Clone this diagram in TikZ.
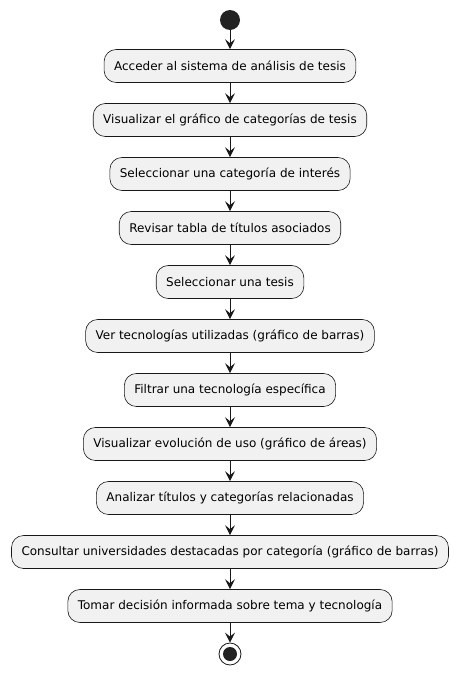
\documentclass[tikz,border=0pt]{standalone}
\usepackage{fontspec}
\setmainfont{DejaVu Sans}
\usetikzlibrary{arrows.meta}
\definecolor{boxfill}{HTML}{F1F1F1}
\definecolor{boxline}{HTML}{181818}
\definecolor{dot}{HTML}{222222}
\tikzset{
  act/.style={draw=boxline, fill=boxfill, line width=0.6pt, rounded corners=12pt,
    minimum height=33pt, inner xsep=10pt, font=\fontsize{12}{14}\selectfont},
  flow/.style={draw=boxline, line width=1pt, -{Stealth[length=10pt,width=10pt,inset=4pt]}},
}
\begin{document}
\begin{tikzpicture}[x=1pt,y=-1pt]
\useasboundingbox (0,0) rectangle (458,675);
\node[circle, fill=dot, minimum size=20pt, inner sep=0] (start) at (230,20) {};
\node[act] (a1) at (230,66) {Acceder al sistema de análisis de tesis};
\node[act] (a2) at (230,120) {Visualizar el gráfico de categorías de tesis};
\node[act] (a3) at (230,174) {Seleccionar una categoría de interés};
\node[act] (a4) at (230,228) {Revisar tabla de títulos asociados};
\node[act] (a5) at (230,282) {Seleccionar una tesis};
\node[act] (a6) at (230,336) {Ver tecnologías utilizadas (gráfico de barras)};
\node[act] (a7) at (230,390) {Filtrar una tecnología específica};
\node[act] (a8) at (230,444) {Visualizar evolución de uso (gráfico de áreas)};
\node[act] (a9) at (230,498) {Analizar títulos y categorías relacionadas};
\node[act] (a10) at (230,552) {Consultar universidades destacadas por categoría (gráfico de barras)};
\node[act] (a11) at (230,606) {Tomar decisión informada sobre tema y tecnología};
\node[circle, draw=boxline, line width=0.8pt, fill=white, minimum size=22pt, inner sep=0] (stop) at (230,654) {};
\fill[dot] (stop.center) circle (7pt);
\draw[flow] (start) -- (a1);
\draw[flow] (a1) -- (a2);
\draw[flow] (a2) -- (a3);
\draw[flow] (a3) -- (a4);
\draw[flow] (a4) -- (a5);
\draw[flow] (a5) -- (a6);
\draw[flow] (a6) -- (a7);
\draw[flow] (a7) -- (a8);
\draw[flow] (a8) -- (a9);
\draw[flow] (a9) -- (a10);
\draw[flow] (a10) -- (a11);
\draw[flow] (a11) -- (stop);
\end{tikzpicture}
\end{document}
